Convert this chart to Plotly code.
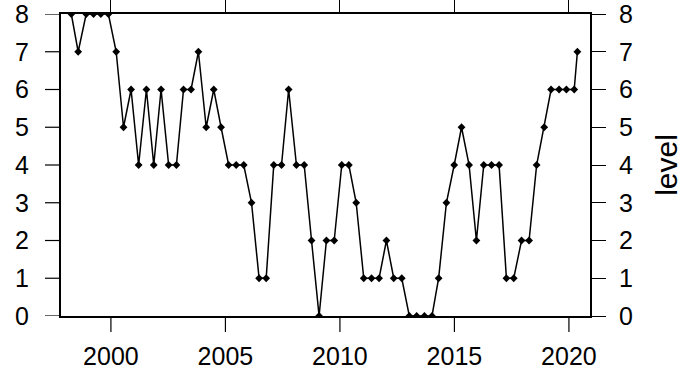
import plotly.graph_objects as go

years = [1998.27, 1998.57, 1998.92, 1999.24, 1999.56, 1999.89,
         2000.23, 2000.55, 2000.88, 2001.21, 2001.55, 2001.87,
         2002.19, 2002.52, 2002.86, 2003.17, 2003.50, 2003.82,
         2004.16, 2004.49, 2004.81, 2005.14, 2005.47, 2005.80,
         2006.14, 2006.47, 2006.78, 2007.11, 2007.45, 2007.76,
         2008.10, 2008.44, 2008.76, 2009.09, 2009.41, 2009.75,
         2010.08, 2010.39, 2010.71, 2011.04, 2011.38, 2011.71,
         2012.03, 2012.35, 2012.70, 2013.03, 2013.35, 2013.69,
         2014.02, 2014.31, 2014.65, 2014.99, 2015.31, 2015.64,
         2015.96, 2016.28, 2016.62, 2016.95, 2017.27, 2017.59,
         2017.93, 2018.26, 2018.59, 2018.92, 2019.22, 2019.57,
         2019.89, 2020.23, 2020.37]

level = [8, 7, 8, 8, 8, 8,
         7, 5, 6, 4, 6, 4,
         6, 4, 4, 6, 6, 7,
         5, 6, 5, 4, 4, 4,
         3, 1, 1, 4, 4, 6,
         4, 4, 2, 0, 2, 2,
         4, 4, 3, 1, 1, 1,
         2, 1, 1, 0, 0, 0,
         0, 1, 3, 4, 5, 4,
         2, 4, 4, 4, 1, 1,
         2, 2, 4, 5, 6, 6,
         6, 6, 7]

x_ticks = [2000, 2005, 2010, 2015, 2020]
y_ticks = [0, 1, 2, 3, 4, 5, 6, 7, 8]

FONT = "Liberation Sans, Arial, Helvetica, sans-serif"
FS = 25
X_RANGE = [1997.82, 2020.92]
Y_RANGE = [0, 8]
TICKLEN = 15

fig = go.Figure()
fig.add_trace(go.Scatter(
    x=years, y=level, mode="lines+markers",
    line=dict(color="black", width=1.5),
    marker=dict(symbol="diamond", size=6, color="black"),
    cliponaxis=True, showlegend=False,
))
# invisible traces so the overlay axes (ticks / labels) get drawn
for xa, ya in [("x2", "y2"), ("x3", "y3")]:
    fig.add_trace(go.Scatter(x=[years[0]], y=[level[0]], xaxis=xa, yaxis=ya,
                             mode="markers", marker=dict(opacity=0),
                             showlegend=False, hoverinfo="skip"))

# bottom tick marks, placed on the x scale, length in pixels
for t in x_ticks:
    fig.add_shape(type="line", xref="x", yref="paper",
                  ysizemode="pixel", yanchor=0,
                  x0=t, x1=t, y0=-1, y1=-(TICKLEN + 1),
                  line=dict(color="black", width=1.2), layer="above")
# left tick marks, placed on the y scale, length in pixels
for v in y_ticks:
    fig.add_shape(type="line", xref="paper", yref="y",
                  xsizemode="pixel", xanchor=0,
                  x0=-1, x1=-(TICKLEN + 1), y0=v, y1=v,
                  line=dict(color="black", width=1.2), layer="above")

base = dict(showgrid=False, zeroline=False, automargin=False, showline=False,
            ticklabeloverflow="allow")
tick_only = dict(ticks="outside", ticklen=TICKLEN, tickwidth=1.2,
                 tickcolor="black", showticklabels=False, **base)
label_only = dict(ticks="", showticklabels=True, **base)

fig.update_layout(
    template="none",
    width=688, height=376,
    margin=dict(l=61, r=98, t=14, b=60),
    paper_bgcolor="white", plot_bgcolor="white",
    font=dict(family=FONT, size=FS, color="black"),
    # main axes: frame + left labels / bottom labels
    xaxis=dict(range=X_RANGE, tickvals=x_ticks, anchor="y",
               ticklabelstandoff=17, layer="above traces",
               showline=True, linewidth=2, linecolor="black", mirror=True,
               ticks="", showticklabels=True, showgrid=False, zeroline=False,
               automargin=False, ticklabeloverflow="allow"),
    yaxis=dict(range=Y_RANGE, tickvals=y_ticks, anchor="x",
               ticklabelstandoff=25, layer="above traces",
               showline=True, linewidth=2, linecolor="black", mirror=True,
               ticks="", showticklabels=True, showgrid=False, zeroline=False,
               automargin=False, ticklabeloverflow="allow"),
    # top ticks
    xaxis3=dict(range=X_RANGE, tickvals=x_ticks, overlaying="x", side="top",
                anchor="y", **tick_only),
    xaxis2=dict(range=X_RANGE, tickvals=x_ticks, overlaying="x", side="top",
                anchor="y", **tick_only),
    # right: ticks + labels + title
    yaxis2=dict(range=Y_RANGE, tickvals=y_ticks, overlaying="y", side="right",
                anchor="x", ticks="outside", ticklen=TICKLEN, tickwidth=1.2,
                tickcolor="black", showticklabels=True, ticklabelstandoff=8,
                title=dict(text="level", standoff=23), **base),
    yaxis3=dict(range=Y_RANGE, tickvals=y_ticks, overlaying="y", side="right",
                anchor="x", **tick_only),
)

fig.write_html("out.html", config={"displayModeBar": False},
               post_script="document.body.style.margin='0px';")
